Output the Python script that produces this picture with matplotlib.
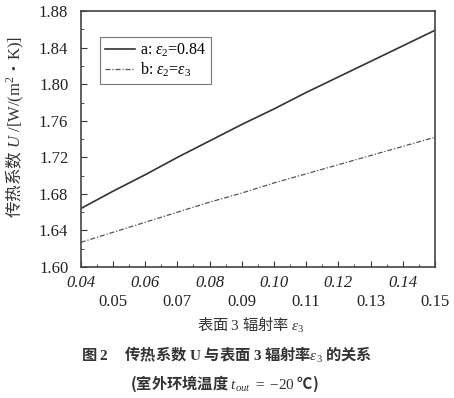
import matplotlib.pyplot as plt
from matplotlib.ticker import MultipleLocator

plt.rcParams['font.family'] = ['Liberation Serif', 'Noto Sans CJK SC', 'DejaVu Sans']
plt.rcParams['mathtext.fontset'] = 'custom'
plt.rcParams['mathtext.rm'] = 'Liberation Serif'
plt.rcParams['mathtext.it'] = 'Liberation Serif:italic'
plt.rcParams['mathtext.bf'] = 'Liberation Serif:bold'
cjk = ['Noto Sans CJK SC', 'Liberation Serif', 'DejaVu Sans']

# data
eps3 = [0.04, 0.05, 0.06, 0.07, 0.08, 0.09, 0.10, 0.11, 0.12, 0.13, 0.14, 0.15]
u_a = [1.664, 1.683, 1.701, 1.720, 1.738, 1.756, 1.773, 1.791, 1.808, 1.825, 1.842, 1.859]
u_b = [1.627, 1.638, 1.649, 1.660, 1.671, 1.681, 1.692, 1.702, 1.712, 1.722, 1.732, 1.742]
label_a = r'a: $\varepsilon_2$=0.84'
label_b = r'b: $\varepsilon_2$=$\varepsilon_3$'
xtick_vals = [0.04, 0.05, 0.06, 0.07, 0.08, 0.09, 0.10, 0.11, 0.12, 0.13, 0.14, 0.15]
ytick_vals = [1.60, 1.64, 1.68, 1.72, 1.76, 1.80, 1.84, 1.88]

fig = plt.figure(figsize=(4.54, 3.98), dpi=100)
ax = fig.add_axes([0.178, 0.329, 0.780, 0.643])

ax.plot(eps3, u_a, color='#333333', linewidth=1.2, label=label_a)
ax.plot(eps3, u_b, color='#555555', linewidth=0.9, linestyle=(0, (4, 1.5, 1, 1.5)), label=label_b)

ax.set_xlim(0.04, 0.15)
ax.set_ylim(1.60, 1.88)

# staggered x labels: even on top row (italic), odd on lower row
xlabels = []
for i, v in enumerate(xtick_vals):
    s = '%.2f' % v
    xlabels.append(s if i % 2 == 0 else '\n' + s)
ax.set_xticks(xtick_vals)
ax.set_xticklabels(xlabels, fontsize=12, linespacing=1.25)
for i, t in enumerate(ax.get_xticklabels()):
    if i % 2 == 0:
        t.set_fontstyle('italic')
ax.xaxis.set_minor_locator(MultipleLocator(0.005))

ax.set_yticks(ytick_vals)
ax.set_yticklabels(['%.2f' % v for v in ytick_vals], fontsize=12)
ax.yaxis.set_minor_locator(MultipleLocator(0.02))

ax.tick_params(which='major', direction='in', length=4, width=0.8, colors='#333333', labelcolor='#222222')
ax.tick_params(which='minor', direction='in', length=2, width=0.6, colors='#333333')
ax.tick_params(axis='x', which='major', pad=6)
ax.tick_params(axis='y', which='major', pad=9)
for sp in ax.spines.values():
    sp.set_color('#444444')
    sp.set_linewidth(1.2)

leg = ax.legend(loc='upper left', bbox_to_anchor=(0.054, 0.898), borderaxespad=0, fontsize=11.5,
                frameon=True, fancybox=False, edgecolor='#555555', handlelength=1.9, borderpad=0.3,
                labelspacing=0.1, handletextpad=0.3)
leg.get_frame().set_linewidth(0.8)

fig.text(0.033, 0.68, r'传热系数 $U\ \mathrm{/[W/(m^2}$•$\mathrm{K)]}$', rotation=90, ha='center', va='center',
         fontsize=12, family=cjk, color='#333333')

fig.text(0.553, 0.183, r'表面 $\mathrm{3}$ 辐射率 $\varepsilon_3$', ha='center', va='center',
         fontsize=11, family=cjk, color='#333333')
fig.text(0.50, 0.108, r'图 $\mathbf{2}$     传热系数 $\mathbf{U}$ 与表面 $\mathbf{3}$ 辐射率$\varepsilon_3$ 的关系',
         ha='center', va='center', fontsize=11, fontweight='bold', family=cjk, color='#333333')
fig.text(0.495, 0.035, r'(室外环境温度 $t_{out}\ =\ {-}\mathrm{20}$ ℃)', ha='center', va='center',
         fontsize=11, fontweight='bold', family=cjk, color='#333333')

fig.savefig('out.png', dpi=100)
